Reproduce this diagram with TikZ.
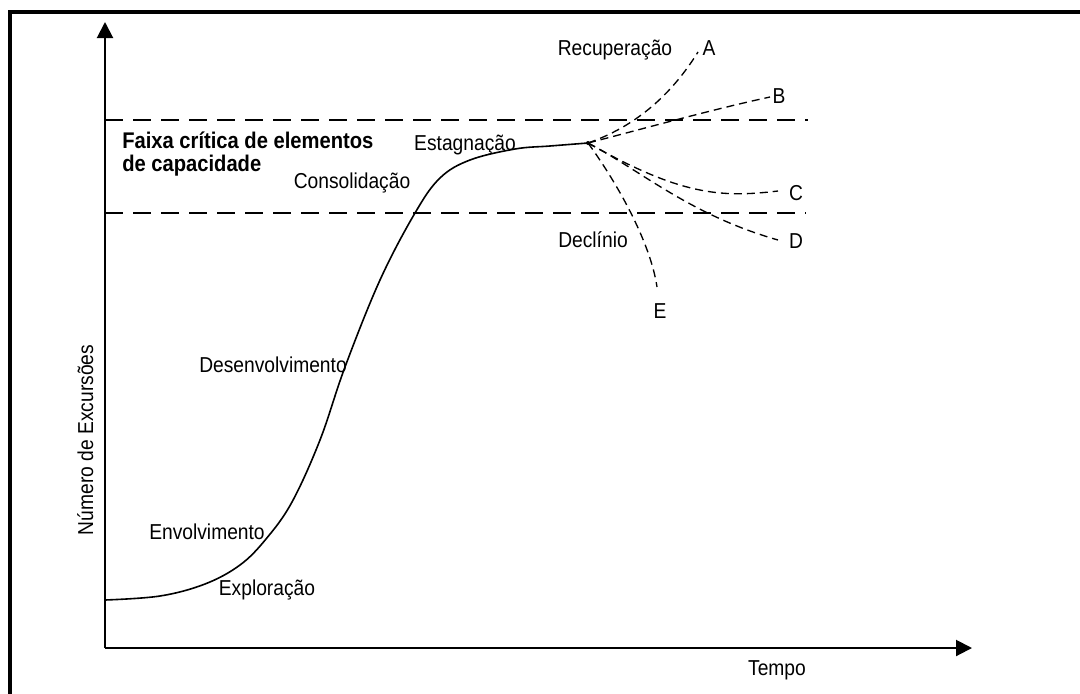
\documentclass[tikz,border=0pt]{standalone}
\usepackage{fontspec}
\setmainfont{Liberation Sans}[FakeStretch=0.89]
\usetikzlibrary{arrows.meta}
\begin{document}
\begin{tikzpicture}[x=0.75pt,y=-0.75pt,
  lbl/.style={font=\fontsize{16.2}{16.5}\selectfont, inner sep=0pt, anchor=base},
  blbl/.style={font=\fontsize{17}{17}\selectfont\bfseries, inner sep=0pt, anchor=base west},
  axisline/.style={line width=1.5pt, -{Triangle[length=12pt,width=12pt]}},
  guide/.style={line width=1.5pt, dash pattern=on 13.5pt off 7.5pt},
  branch/.style={line width=1pt, dash pattern=on 6pt off 3.75pt},
  curve/.style={line width=1.2pt},
  frame/.style={line width=3pt}
]
\useasboundingbox (0,0) rectangle (1080,693);
\draw[frame] (1085,12) -- (10,12) -- (10,698);

\coordinate (O) at (105,648);
\coordinate (ytip) at (105,22);
\coordinate (xtip) at (972,648);
\draw[axisline] (O) -- (ytip);
\draw[axisline] (O) -- (xtip);

\coordinate (g1a) at (105,120);
\coordinate (g1b) at (808,120);
\coordinate (g2a) at (105,213);
\coordinate (g2b) at (806,213);
\draw[guide] (g1a) -- (g1b);
\draw[guide] (g2a) -- (g2b);

\coordinate (S) at (588,143);
\draw[curve] plot[smooth, tension=0.6] coordinates {(105,600) (160,596) (205,584) (240,565) (266,539) (292,502) (320,440) (345,367) (380,280) (415,213) (440,178) (470,160) (515,149) (550,146) (588,143)};
\fill (S) circle (2);

\coordinate (eA) at (698,52);
\coordinate (eB) at (770,97);
\coordinate (eC) at (778,191);
\coordinate (eD) at (778,240);
\coordinate (eE) at (657,287);
\draw[branch] (S) .. controls (625,130) and (665,105) .. (eA);
\draw[branch] (S) .. controls (650,127) and (710,110) .. (eB);
\draw[branch] (S) .. controls (680,195) and (720,198) .. (eC);
\draw[branch] (S) .. controls (640,170) and (690,215) .. (eD);
\draw[branch] (S) .. controls (615,180) and (650,240) .. (eE);

\node[lbl] (lA) at (709,55) {A};
\node[lbl] (lB) at (779,103) {B};
\node[lbl] (lC) at (796,200) {C};
\node[lbl] (lD) at (796,248) {D};
\node[lbl] (lE) at (660,318) {E};

\node[lbl] (rec) at (615,55) {Recuperação};
\node[lbl] (est) at (465,150) {Estagnação};
\node[blbl] (faixa) at (122,148) {Faixa crítica de elementos};
\node[blbl] (faixa2) at (122,171) {de capacidade};
\node[lbl] (cons) at (352,188) {Consolidação};
\node[lbl] (decl) at (593,247) {Declínio};
\node[lbl] (desen) at (273,372) {Desenvolvimento};
\node[lbl] (envol) at (207,539) {Envolvimento};
\node[lbl] (expl) at (267,595) {Exploração};
\node[lbl, rotate=90] (ylab) at (93,440) {Número de Excursões};
\node[lbl] (tempo) at (777,675) {Tempo};
\end{tikzpicture}
\end{document}
